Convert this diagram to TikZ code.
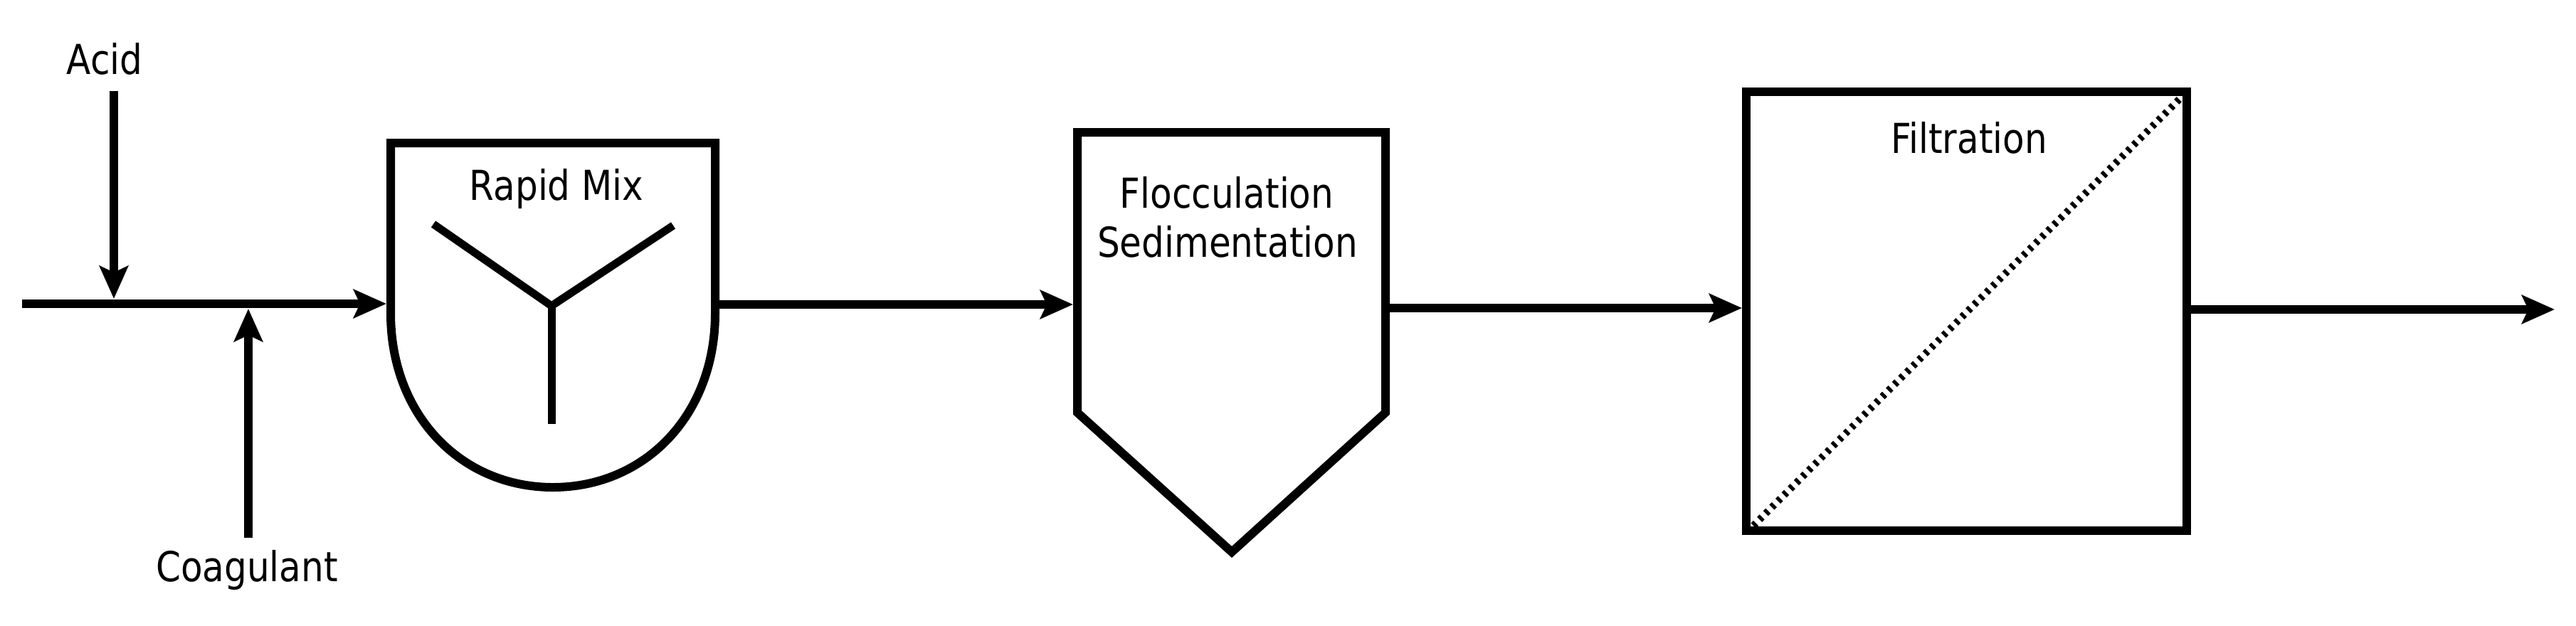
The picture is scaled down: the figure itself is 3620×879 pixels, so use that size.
\documentclass[tikz,border=0pt]{standalone}
\usepackage{fontspec}
\setmainfont[FakeStretch=0.863]{DejaVu Sans}
\usetikzlibrary{arrows.meta}
\tikzset{
  unit/.style={line width=1.2mm, draw=black, line join=miter},
  flow/.style={line width=1.2mm, draw=black, -{Stealth[length=4.6mm,width=4mm,inset=0.9mm]}},
  lbl/.style={anchor=base, inner sep=0pt, font=\fontsize{16.5}{20}\selectfont},
  filt/.style={line width=1mm, draw=black, dash pattern=on 0.5mm off 0.72mm}
}
\begin{document}
\begin{tikzpicture}[x=0.1mm,y=-0.1mm]
\useasboundingbox[fill=white] (0,0) rectangle (3620,879);
% labels
\node[lbl] (acid) at (147,104) {Acid};
\node[lbl] (coag) at (347,817) {Coagulant};
\node[lbl] (rmtxt) at (782,281) {Rapid Mix};
\node[lbl] (floctxt) at (1724,292) {Flocculation};
\node[lbl] (sedtxt) at (1725,361) {Sedimentation};
\node[lbl] (filttxt) at (2767,215) {Filtration};
% rapid mix tank
\draw[unit] (549,440) -- (549,201) -- (1005,201) -- (1005,440)
  .. controls (1005,585) and (905,685) .. (777,685)
  .. controls (649,685) and (549,585) .. cycle;
\coordinate (hub) at (775,430);
\coordinate (armL) at (609,315);
\coordinate (armR) at (946,317);
\coordinate (shaft) at (775,596);
\draw[line width=1.1mm] (armL) -- (hub) -- (armR);
\draw[line width=1.1mm] (hub) -- (shaft);
% flocculation / sedimentation
\draw[unit] (1514,580) -- (1514,186) -- (1947,186) -- (1947,580) -- (1731,776) -- cycle;
% filtration
\draw[unit] (2454,129) rectangle (3073,746);
\coordinate (dA) at (2464,739);
\coordinate (dB) at (3066,136);
\draw[filt] (dA) -- (dB);
% connection points
\coordinate (start) at (31,427);
\coordinate (rmin) at (543,427);
\coordinate (acidtop) at (160,128);
\coordinate (acidtip) at (160,420);
\coordinate (coagbot) at (349,756);
\coordinate (coagtip) at (349,434);
\coordinate (rmout) at (1011,428);
\coordinate (flocin) at (1508,428);
\coordinate (flocout) at (1953,433);
\coordinate (filtin) at (2448,433);
\coordinate (filtout) at (3079,435);
\coordinate (endpt) at (3590,435);
% connectors
\draw[flow] (start) -- (rmin);
\draw[flow] (acidtop) -- (acidtip);
\draw[flow] (coagbot) -- (coagtip);
\draw[flow] (rmout) -- (flocin);
\draw[flow] (flocout) -- (filtin);
\draw[flow] (filtout) -- (endpt);
\end{tikzpicture}
\end{document}
